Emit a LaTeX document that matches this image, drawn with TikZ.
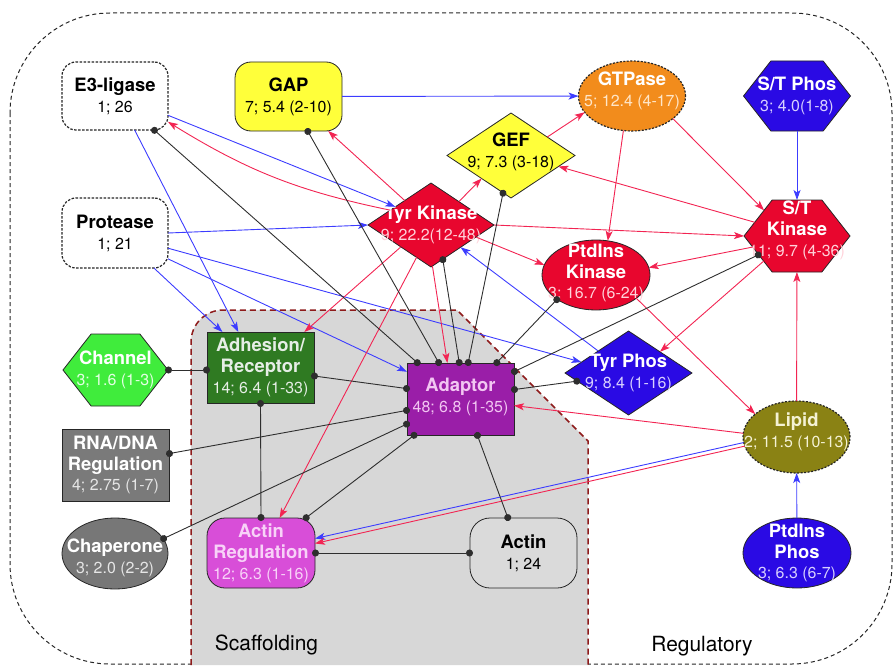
\documentclass[tikz,border=0pt]{standalone}
\usepackage{fontspec}
\setmainfont{TeX Gyre Heros}
\usetikzlibrary{shapes.geometric,shapes.symbols,arrows.meta,calc}
\definecolor{cblueln}{HTML}{3C3CFF}
\definecolor{credln}{HTML}{F22452}
\definecolor{cblackln}{HTML}{2E2E2E}
\definecolor{cyel}{HTML}{FFFF3A}
\definecolor{corange}{HTML}{F28C1C}
\definecolor{cblu}{HTML}{2A0AE4}
\definecolor{cred}{HTML}{E8062E}
\definecolor{cgreen}{HTML}{40EC3C}
\definecolor{cadh}{HTML}{2F7A22}
\definecolor{cadp}{HTML}{9A1EA8}
\definecolor{cmag}{HTML}{D84ED8}
\definecolor{colive}{HTML}{8A8214}
\definecolor{cgray}{HTML}{7A7A7A}
\definecolor{cgrayb}{HTML}{777777}
\definecolor{cregion}{HTML}{D7D7D7}
\definecolor{cact}{HTML}{DADADA}
\definecolor{cregb}{HTML}{8E1B1B}
\definecolor{gtsub}{HTML}{FFE6C8}
\definecolor{bsub}{HTML}{D8D0FF}
\definecolor{rsub}{HTML}{FFD2DA}
\definecolor{gsub}{HTML}{E4FFE4}
\definecolor{adhtxt}{HTML}{E6EEE6}
\definecolor{adptxt}{HTML}{F2C6F2}
\definecolor{liptxt}{HTML}{F4F2D4}
\definecolor{graysub}{HTML}{E6E6E6}
\definecolor{artxt}{HTML}{F8D2F8}
\newcommand\NdT{\fontsize{18.5}{21}\selectfont\bfseries}
\newcommand\NdS{\normalfont\fontsize{16}{21}\selectfont}
\tikzset{
  nd/.style={inner sep=0pt, outer sep=0pt, line width=0.8bp, draw=black!85},
  sz/.style 2 args={minimum width=#1bp, minimum height=#2bp},
  dashbox/.style={nd, rectangle, rounded corners=14bp, dash pattern=on 2.5bp off 1.5bp, line width=1.2bp, fill=white},
  dashell/.style={nd, ellipse, dash pattern=on 2bp off 1.5bp, line width=1.2bp},
  hexa/.style={nd, signal, signal to=west and east, signal pointer angle=104},
  tx/.style={align=center, inner sep=0pt, font=\NdS},
  bl/.style={draw=cblueln, line width=0.9bp, -{Stealth[length=10bp,width=7bp,inset=2.5bp]}},
  rd/.style={draw=credln, line width=0.9bp, -{Stealth[length=10bp,width=7bp,inset=2.5bp]}},
  bk/.style={draw=cblackln, line width=0.9bp, {Circle[length=7bp]}-{Circle[length=7bp]}, shorten <=-3bp, shorten >=-3bp},
}
\begin{document}
\begin{tikzpicture}[x=1bp,y=-1bp]
\useasboundingbox (0,0) rectangle (893,666);
% outer frame
\draw[draw=black!85, dash pattern=on 4bp off 3bp, line width=1bp, rounded corners=100bp] (10,13) rectangle (892,664);
% scaffolding region
\fill[cregion] (191,665) -- (191,342) arc[start angle=180, end angle=270, radius=32] -- (457,310) -- (588,441) -- (588,665) -- cycle;
\draw[draw=cregb, dash pattern=on 6bp off 4bp, line width=1.5bp] (191,665) -- (191,342) arc[start angle=180, end angle=270, radius=32] -- (457,310) -- (588,441) -- (588,665);
\node[font=\fontsize{21}{24}\selectfont, inner sep=0pt] (scl) at (266.5,645) {Scaffolding};
\node[font=\fontsize{21}{24}\selectfont, inner sep=0pt] (rgl) at (702,646) {Regulatory};
% shapes
\node[dashbox, sz={106}{68}] (e3) at (115,96) {};
\node[nd, rectangle, rounded corners=16bp, fill=cyel, sz={107}{69}] (gap) at (288.5,96.5) {};
\node[dashell, fill=corange, sz={107}{70}] (gtp) at (632,96) {};
\node[hexa, fill=cblu, sz={107}{70}] (stp) at (797,96) {};
\node[nd, diamond, fill=cyel, sz={128}{85}] (gef) at (511,155.5) {};
\node[nd, diamond, fill=cred, sz={126}{84}] (tk) at (431,225) {};
\node[hexa, fill=cred, sz={106}{72}] (stk) at (797,236) {};
\node[nd, ellipse, fill=cred, sz={108}{70}] (pik) at (596,275) {};
\node[dashbox, sz={106}{70}] (pro) at (115,233) {};
\node[hexa, fill=cgreen, sz={105}{72}] (ch) at (115.5,370) {};
\node[nd, rectangle, fill=cadh, sz={107}{71}] (adh) at (260.5,367.5) {};
\node[nd, rectangle, fill=cadp, sz={107}{72}] (ad) at (460.5,399) {};
\node[nd, diamond, fill=cblu, sz={127}{84}] (tp) at (628.5,373) {};
\node[dashell, fill=colive, sz={107}{72}] (lip) at (796.5,437) {};
\node[nd, rectangle, fill=cgray, sz={107}{72}] (rna) at (115.5,465) {};
\node[nd, ellipse, fill=cgrayb, sz={106}{71}] (cha) at (115,553.5) {};
\node[nd, rectangle, rounded corners=18bp, fill=cmag, sz={108}{70}] (ar) at (261,553) {};
\node[nd, rectangle, rounded corners=20bp, fill=cact, sz={107}{70}] (act) at (523.5,553) {};
\node[nd, ellipse, fill=cblu, sz={108}{70}] (pip) at (797,553) {};
% texts
\node[tx] (e3t) at (e3) {\NdT E3-ligase\\\NdS 1; 26};
\node[tx] (gapt) at (gap) {\NdT GAP\\\NdS 7; 5.4 (2-10)};
\node[tx, text=white] (gtpt) at ($(gtp)+(0,-5)$) {\NdT GTPase\\\NdS\color{gtsub}5; 12.4 (4-17)};
\node[tx, text=white] (stpt) at (stp) {\NdT S/T Phos\\\NdS\color{bsub}3; 4.0(1-8)};
\node[tx] (geft) at ($(gef)+(0,-4)$) {\NdT GEF\\\NdS 9; 7.3 (3-18)};
\node[tx, text=white] (tkt) at (tk) {\NdT Tyr Kinase\\\NdS\color{rsub}9; 22.2(12-48)};
\node[tx, text=white] (stkt) at ($(stk)+(0,-6)$) {\NdT S/T\\\NdT Kinase\\\NdS\color{rsub}11; 9.7 (4-36)};
\node[tx, text=white] (pikt) at ($(pik)+(0,-2)$) {\NdT PtdIns\\\NdT Kinase\\\NdS\color{rsub}3; 16.7 (6-24)};
\node[tx] (prot) at (pro) {\NdT Protease\\\NdS 1; 21};
\node[tx, text=white] (cht) at (ch) {\NdT Channel\\\NdS\color{gsub}3; 1.6 (1-3)};
\node[tx, text=adhtxt] (adht) at (adh) {\NdT Adhesion/\\\NdT Receptor\\\NdS 14; 6.4 (1-33)};
\node[tx, text=adptxt] (adt) at ($(ad)+(0,-2)$) {\NdT Adaptor\\\NdS 48; 6.8 (1-35)};
\node[tx, text=white] (tpt) at (tp) {\NdT Tyr Phos\\\NdS\color{bsub}9; 8.4 (1-16)};
\node[tx, text=liptxt] (lipt) at ($(lip)+(0,-5)$) {\NdT Lipid\\\NdS 2; 11.5 (10-13)};
\node[tx, text=white] (rnat) at (rna) {\NdT RNA/DNA\\\NdT Regulation\\\NdS\color{graysub}4; 2.75 (1-7)};
\node[tx, text=white] (chat) at ($(cha)+(0,4)$) {\NdT Chaperone\\\NdS\color{graysub}3; 2.0 (2-2)};
\node[tx, text=artxt] (art) at (ar) {\NdT Actin\\\NdT Regulation\\\NdS 12; 6.3 (1-16)};
\node[tx] (actt) at (act) {\NdT Actin\\\NdS 1; 24};
\node[tx, text=white] (pipt) at (pip) {\NdT PtdIns\\\NdT Phos\\\NdS\color{bsub}3; 6.3 (6-7)};
% blue connectors
\draw[bl] (e3.-20) -- (tk.153);
\draw[bl] (e3.-60) -- (adh.122);
\draw[bl] (gap) -- (gtp);
\draw[bl] (pro.east) -- (tk.west);
\draw[bl] (pro.-42) -- (adh.137);
\draw[bl] (pro.-26) -- (ad.153);
\draw[bl] (pro.-16) -- (tp.167);
\draw[bl] (tp.144) -- (tk.-37);
\draw[bl] (stp) -- (stk);
\draw[bl] (pip) -- (lip);
\draw[bl] (lip.186) -- (ar.15);
% red connectors
\draw[rd] (tk.160) to[bend left=10] (e3.-26);
\draw[rd] (tk.137) -- (gap.-41);
\draw[rd] (tk.40) -- (gef.218);
\draw[rd] (gef.27) -- (gtp.199);
\draw[rd] (gtp.256) -- (pik.71);
\draw[rd] (gtp.-29) -- (stk.142);
\draw[rd] (stk.162) -- (gef.-13);
\draw[rd] (tk.east) -- (stk.west);
\draw[rd] (tk.-15) -- (pik.169);
\draw[rd] (stk.194) -- (pik.8);
\draw[rd] (stk.217) -- (tp.34);
\draw[rd] (pik.-30) -- (lip.151);
\draw[rd] (lip) -- (stk);
\draw[rd] (lip.176) -- (ad.-7);
\draw[rd] (lip.190) -- (ar.10);
\draw[rd] (tk.216) -- (adh.39);
\draw[rd] (tk.246) -- (ar.62);
\draw[rd] (tk.-88) -- (ad.110);
% black binding connectors
\draw[bk] (e3.-41) -- (ad.140);
\draw[bk] (gap.-61) -- (ad.121);
\draw[bk] (tk.-71) -- (ad.92);
\draw[bk] (gef.258) -- (ad.78);
\draw[bk] (pik.212) -- (ad.45);
\draw[bk] (stk.206) -- (ad.27);
\draw[bk] (tp.189) -- (ad.10);
\draw[bk] (adh.-9) -- (ad.169);
\draw[bk] (rna.12) -- (ad.192);
\draw[bk] (cha.17) -- (ad.205);
\draw[bk] (ar.38) -- (ad.218);
\draw[bk] (act.114) -- (ad.-65);
\draw[bk] (ch.east) -- (ch.east -| adh.west);
\draw[bk] (adh.south) -- (ar.north);
\draw[bk] (ar.east) -- (act.west);
\end{tikzpicture}
\end{document}
